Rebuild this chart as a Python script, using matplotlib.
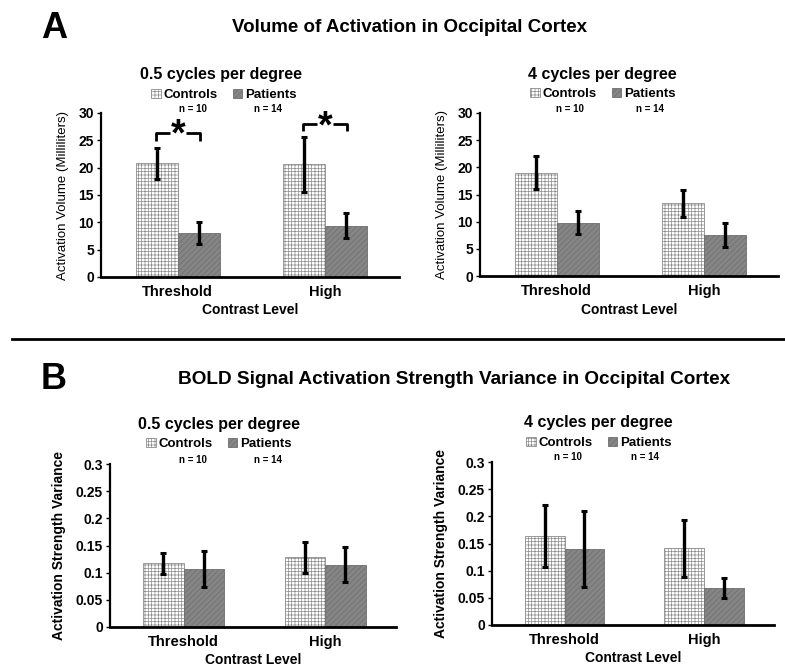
import matplotlib
matplotlib.use('Agg')
import matplotlib.pyplot as plt
from matplotlib.lines import Line2D
from matplotlib.patches import Patch

plt.rcParams['font.family'] = ['Liberation Sans', 'DejaVu Sans']
plt.rcParams['hatch.linewidth'] = 0.5

## data
categories = ['Threshold', 'High']
groups = ['Controls', 'Patients']
group_n = ['n = 10', 'n = 14']

vol_05_ctrl = [20.8, 20.6]
vol_05_ctrl_err = [2.8, 5.0]
vol_05_pat = [8.0, 9.4]
vol_05_pat_err = [2.0, 2.35]

vol_4_ctrl = [19.0, 13.4]
vol_4_ctrl_err = [3.0, 2.5]
vol_4_pat = [9.8, 7.5]
vol_4_pat_err = [2.1, 2.25]

var_05_ctrl = [0.117, 0.128]
var_05_ctrl_err = [0.020, 0.029]
var_05_pat = [0.107, 0.115]
var_05_pat_err = [0.033, 0.032]

var_4_ctrl = [0.163, 0.141]
var_4_ctrl_err = [0.057, 0.052]
var_4_pat = [0.140, 0.068]
var_4_pat_err = [0.070, 0.019]

# significance brackets (0.5 cpd volume): top height, tick bottom
sig_top = [26.4, 27.9]
sig_bottom = [24.9, 26.7]

W, H = 785, 669
fig = plt.figure(figsize=(7.85, 6.69), dpi=100)


def px(x, y):
    return x / W, 1 - y / H


def make_ax(x0, x1, ytop, ybot):
    return fig.add_axes([x0 / W, 1 - ybot / H, (x1 - x0) / W, (ybot - ytop) / H])


bw = 0.285
ctrl_style = dict(facecolor='white', edgecolor='#8c8c8c', hatch='+++++', linewidth=0.6)
pat_style = dict(facecolor='#858585', edgecolor='#6e6e6e', hatch='//////', linewidth=0.6)
err_style = dict(ecolor='black', elinewidth=2.4, capsize=2.5, capthick=2.2, fmt='none')


def draw_panel(ax, ctrl, ctrl_err, pat, pat_err, ymax, yticks, ylabel, ylab_bold, ticklabels):
    xs = range(len(categories))
    xc = [x - bw / 2 for x in xs]
    xp = [x + bw / 2 for x in xs]
    ax.bar(xc, ctrl, bw, **ctrl_style, zorder=2)
    ax.bar(xp, pat, bw, **pat_style, zorder=2)
    ax.errorbar(xc, ctrl, yerr=ctrl_err, zorder=3, **err_style)
    ax.errorbar(xp, pat, yerr=pat_err, zorder=3, **err_style)
    ax.set_xlim(-0.52, 1.5)
    ax.set_ylim(0, ymax)
    ax.set_yticks(yticks)
    ax.set_yticklabels(ticklabels, fontsize=10, fontweight='bold')
    ax.set_xticks(list(xs))
    ax.set_xticklabels(categories, fontsize=10.5, fontweight='bold')
    ax.tick_params(axis='x', length=0, pad=6)
    ax.tick_params(axis='y', length=3, width=1, pad=2)
    for s in ['top', 'right']:
        ax.spines[s].set_visible(False)
    ax.spines['left'].set_linewidth(1.6)
    ax.spines['bottom'].set_linewidth(2)
    ax.set_xlabel('Contrast Level', fontsize=10, fontweight='bold', labelpad=3)
    ax.set_ylabel(ylabel, fontsize=9.5 if not ylab_bold else 10,
                  fontweight='bold' if ylab_bold else 'normal', labelpad=7)


vol_ticks = [0, 5, 10, 15, 20, 25, 30]
vol_labels = [str(t) for t in vol_ticks]
var_ticks = [0, 0.05, 0.1, 0.15, 0.2, 0.25, 0.3]
var_labels = ['0', '0.05', '0.1', '0.15', '0.2', '0.25', '0.3']

axA1 = make_ax(101, 399, 113, 277)
draw_panel(axA1, vol_05_ctrl, vol_05_ctrl_err, vol_05_pat, vol_05_pat_err, 30, vol_ticks,
           'Activation Volume (Milliliters)', False, vol_labels)
axA2 = make_ax(480, 778, 113, 276)
draw_panel(axA2, vol_4_ctrl, vol_4_ctrl_err, vol_4_pat, vol_4_pat_err, 30, vol_ticks,
           'Activation Volume (Milliliters)', False, vol_labels)
axB1 = make_ax(110, 396, 464, 627)
draw_panel(axB1, var_05_ctrl, var_05_ctrl_err, var_05_pat, var_05_pat_err, 0.3, var_ticks,
           'Activation Strength Variance', True, var_labels)
axB2 = make_ax(492, 774, 462, 625)
draw_panel(axB2, var_4_ctrl, var_4_ctrl_err, var_4_pat, var_4_pat_err, 0.3, var_ticks,
           'Activation Strength Variance', True, var_labels)

# significance brackets
for i in range(len(categories)):
    for side in (-1, 1):
        ax_x = [i + side * 0.15, i + side * 0.15, i + side * 0.055]
        ax_y = [sig_bottom[i], sig_top[i], sig_top[i]]
        axA1.plot(ax_x, ax_y, color='black', lw=2, clip_on=False, solid_capstyle='butt')
    axA1.text(i, sig_top[i] - 0.6, '*', ha='center', va='center', fontsize=27,
              fontweight='bold', clip_on=False)

# panel letters and titles
fig.text(*px(41, 28), 'A', fontsize=26, fontweight='bold', va='center', ha='left')
fig.text(*px(410, 28), 'Volume of Activation in Occipital Cortex', fontsize=13.5,
         fontweight='bold', ha='center', va='center')
fig.text(*px(41, 379), 'B', fontsize=26, fontweight='bold', va='center', ha='left')
fig.text(*px(454, 379), 'BOLD Signal Activation Strength Variance in Occipital Cortex',
         fontsize=13.7, fontweight='bold', ha='center', va='center')
fig.add_artist(Line2D([12 / W, 1], [1 - 339 / H, 1 - 339 / H], color='black', lw=2))

subtitles = [
    ('0.5 cycles per degree', 221, 75, 224, 95, (193, 268), 109),
    ('4 cycles per degree', 602, 75, 603, 94, (570, 650), 109),
    ('0.5 cycles per degree', 219, 424, 219, 444, (193, 268), 460),
    ('4 cycles per degree', 598, 423, 599, 443, (568, 645), 457),
]
handles = [Patch(**ctrl_style), Patch(**pat_style)]
for title, tx, ty, lx, ly, nx, ny in subtitles:
    fig.text(*px(tx, ty), title, fontsize=11.5, fontweight='bold', ha='center', va='center')
    fig.legend(handles, groups, loc='center', bbox_to_anchor=px(lx, ly), ncol=2,
               frameon=False, handlelength=0.75, handleheight=0.75, handletextpad=0.2,
               columnspacing=1.1, borderpad=0, prop=dict(size=9.5, weight='bold'))
    for label, x in zip(group_n, nx):
        fig.text(*px(x, ny), label, fontsize=7, fontweight='bold', ha='center', va='center')

fig.savefig('out.png', dpi=100)
